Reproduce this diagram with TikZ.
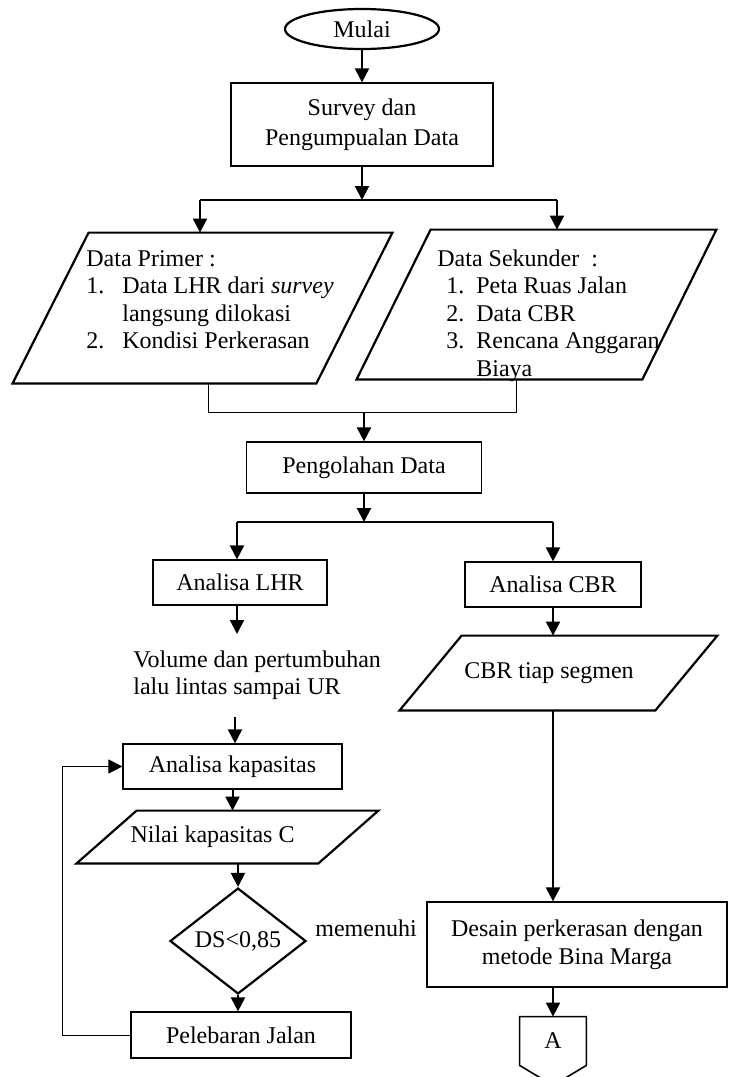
\documentclass[tikz,border=0pt]{standalone}
\usepackage{fontspec}
\setmainfont{Liberation Serif}
\usetikzlibrary{shapes.geometric,arrows.meta}

\begin{document}
\begin{tikzpicture}[x=0.5pt,y=-0.5pt,
    every node/.style={font=\fontsize{12}{13.75}\selectfont, inner sep=0pt},
    box/.style={draw, line width=0.6pt, align=center},
    term/.style={draw, ellipse, line width=1.1pt},
    dec/.style={draw, diamond, line width=1.1pt},
    para/.style={line width=1.1pt},
    arr/.style={-{Triangle[length=7pt,width=7pt]}, line width=1pt},
    link/.style={line width=0.5pt}]
    \useasboundingbox (0,0) rectangle (733,1077);

    \node[term, minimum width=77pt, minimum height=20pt] (mulai) at (362,29) {Mulai};
    \node[box, minimum width=131pt, minimum height=41.5pt] (survey) at (362,124.5) {Survey dan\\[1.25pt]Pengumpualan Data};
    \coordinate (s1) at (362,200);
    \coordinate (bl) at (200,200);
    \coordinate (br) at (557,200);

    \node[minimum width=189.5pt, minimum height=75pt] (primer) at (202.5,308) {};
    \node[minimum width=179.5pt, minimum height=74.5pt] (sekunder) at (536.5,304.5) {};
    \node[anchor=base west] (primertxt) at (86,266) {\begin{tabular}[t]{@{}p{18pt}@{}l@{}}
        \multicolumn{2}{@{}l@{}}{Data Primer :}\\
        1. & Data LHR dari \textit{survey}\\
           & langsung dilokasi\\
        2. & Kondisi Perkerasan
    \end{tabular}};
    \node[anchor=base west] (sekundertxt) at (437,266) {\begin{tabular}[t]{@{\hspace{4.5pt}}p{15pt}@{}l@{}}
        \multicolumn{2}{@{}l@{}}{Data Sekunder~ :}\\
        1. & Peta Ruas Jalan\\
        2. & Data CBR\\
        3. & Rencana Anggaran\\
           & Biaya
    \end{tabular}};
    \coordinate (jl) at (208,412);
    \coordinate (jr) at (516,412);
    \coordinate (j1) at (364,412);

    \node[box, minimum width=117.5pt, minimum height=25.5pt] (olah) at (364,467.5) {Pengolahan Data};
    \coordinate (s2) at (364,522);
    \coordinate (ll) at (237,522);
    \coordinate (rr) at (553,522);

    \node[box, minimum width=87pt, minimum height=22.5pt] (lhr) at (240,582.5) {Analisa LHR};
    \node[box, minimum width=88pt, minimum height=22.5pt] (cbr) at (553,584.5) {Analisa CBR};
    \coordinate (v0) at (237,634);
    \node[anchor=west, align=left] (vol) at (133,675) {Volume dan pertumbuhan\\lalu lintas sampai UR};
    \coordinate (v1) at (235,717);
    \node[box, minimum width=109.5pt, minimum height=22.5pt] (kap) at (232.5,766.5) {Analisa kapasitas};
    \node[minimum width=150.5pt, minimum height=26pt] (nilai) at (227.5,837) {\hspace*{-15pt}Nilai kapasitas C};
    \node[dec, minimum width=68pt, minimum height=45.5pt] (ds) at (238,941) {\raisebox{-4pt}{DS<0,85}};
    \node[anchor=west] (ok) at (315,928) {memenuhi};
    \node[box, minimum width=110pt, minimum height=23pt] (pel) at (241,1035) {Pelebaran Jalan};

    \node[minimum width=158.5pt, minimum height=37pt] (seg) at (558.5,673) {\hspace*{-9.5pt}CBR tiap segmen};
    \node[box, minimum width=150pt, minimum height=42.5pt] (desain) at (577,944.5) {Desain perkerasan dengan\\metode Bina Marga};
    \node[minimum width=33pt, minimum height=24pt] (A) at (553,1041) {A};

    \foreach \n/\s in {primer/38pt,sekunder/37pt,nilai/30pt,seg/31pt}
        \draw[para] ([xshift=\s]\n.north west) -- (\n.north east) -- ([xshift=-\s]\n.south east) -- (\n.south west) -- cycle;
    \draw[line width=0.8pt] (A.south west) -- (A.north west) -- (A.north east) -- (A.south east) -- ([yshift=-10pt]A.south) -- cycle;

    \draw[arr] (mulai) -- (survey);
    \draw[arr] (survey) -- (s1);
    \draw[line width=0.9pt] (bl) -- (br);
    \draw[arr] (bl) -- (bl |- primer.north);
    \draw[arr] (br) -- (br |- sekunder.north);
    \draw[link] (jl |- primer.south) -- (jl) -- (jr) -- (jr |- sekunder.south);
    \draw[arr] (j1) -- (olah);
    \draw[arr] (olah) -- (s2);
    \draw[line width=0.9pt] (ll) -- (rr);
    \draw[arr] (ll) -- (ll |- lhr.north);
    \draw[arr] (rr) -- (rr |- cbr.north);
    \draw[arr] (v0 |- lhr.south) -- (v0);
    \draw[arr] (v1) -- (v1 |- kap.north);
    \draw[arr] (kap.south) -- (kap.south |- nilai.north);
    \draw[arr] (ds.north |- nilai.south) -- (ds.north);
    \draw[arr] (ds.south) -- (ds.south |- pel.north);
    \draw[link, -{Triangle[length=7pt,width=7pt]}] (pel.west) -- ++(-68,0) |- (kap.west);
    \draw[arr] (cbr.south) -- (cbr.south |- seg.north);
    \draw[arr] (cbr.south |- seg.south) -- (cbr.south |- desain.north);
    \draw[arr] (cbr.south |- desain.south) -- (cbr.south |- A.north);
\end{tikzpicture}
\end{document}
